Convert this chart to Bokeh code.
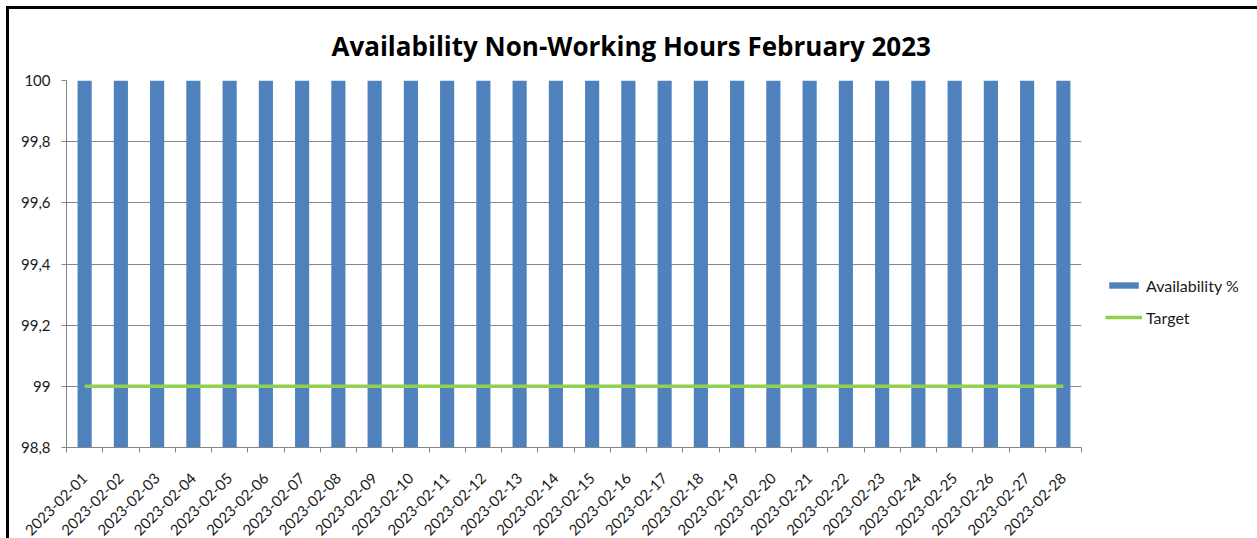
import math
from bokeh.plotting import figure
from bokeh.models import (Range1d, FixedTicker, CustomJSTickFormatter, Legend,
                          LegendItem, ColumnDataSource)
from bokeh.embed import file_html
from bokeh.resources import INLINE

title_text = "Availability Non-Working Hours February 2023"

dates = ["2023-02-01", "2023-02-02", "2023-02-03", "2023-02-04", "2023-02-05",
         "2023-02-06", "2023-02-07", "2023-02-08", "2023-02-09", "2023-02-10",
         "2023-02-11", "2023-02-12", "2023-02-13", "2023-02-14", "2023-02-15",
         "2023-02-16", "2023-02-17", "2023-02-18", "2023-02-19", "2023-02-20",
         "2023-02-21", "2023-02-22", "2023-02-23", "2023-02-24", "2023-02-25",
         "2023-02-26", "2023-02-27", "2023-02-28"]
availability = [100, 100, 100, 100, 100, 100, 100, 100, 100, 100,
                100, 100, 100, 100, 100, 100, 100, 100, 100, 100,
                100, 100, 100, 100, 100, 100, 100, 100]
target = [99, 99, 99, 99, 99, 99, 99, 99, 99, 99,
          99, 99, 99, 99, 99, 99, 99, 99, 99, 99,
          99, 99, 99, 99, 99, 99, 99, 99]
y_ticks = [98.8, 99.0, 99.2, 99.4, 99.6, 99.8, 100.0]
y_tick_labels = ["98,8", "99", "99,2", "99,4", "99,6", "99,8", "100"]

BAR = "#4F81BD"
GREEN = "#92D050"
GRID = "#868686"
TXT = "#1a1a1a"
FONT = "Lato"

x_pos = [i + 0.5 for i in range(len(dates))]
bounds = list(range(len(dates) + 1))

src = ColumnDataSource(dict(x=x_pos, avail=availability, target=target, date=dates))

p = figure(frame_width=1015, frame_height=367, output_backend="svg",
           toolbar_location=None,
           x_range=Range1d(0, len(dates)), y_range=Range1d(y_ticks[0], y_ticks[-1]),
           min_border_left=57, min_border_right=177, min_border_top=71,
           min_border_bottom=92)
p.styles = {"border-top": "3px solid black", "border-left": "3px solid black",
            "border-right": "3px solid black", "margin-left": "6px",
            "margin-top": "6px"}
p.outline_line_color = None
p.background_fill_color = "white"
p.border_fill_color = "white"

p.title.text = title_text
p.title.align = "left"
p.title.offset = 265
p.title.vertical_align = "middle"
p.title.standoff = 32
p.title.text_font = "Open Sans"
p.title.text_font_style = "bold"
p.title.text_font_size = "26px"
p.title.text_color = "black"

bars = p.vbar(x="x", top="avail", bottom=y_ticks[0], width=0.39, source=src,
              fill_color=BAR, line_color=None)
tline = p.line(x="x", y="target", source=src, line_color=GREEN, line_width=3.5)

# x axis
xa = p.xaxis[0]
xa.ticker = FixedTicker(ticks=x_pos, minor_ticks=bounds)
xa.formatter = CustomJSTickFormatter(args=dict(date_labels=dates),
                                     code="return date_labels[Math.floor(tick)]")
xa.major_tick_out = 0
xa.major_tick_in = 0
xa.minor_tick_out = 5
xa.minor_tick_in = 0
xa.minor_tick_line_color = GRID
xa.axis_line_color = GRID
xa.major_label_orientation = math.pi / 4
xa.major_label_standoff = 23
xa.major_label_text_font = FONT
xa.major_label_text_font_size = "15px"
xa.major_label_text_color = TXT

# y axis
ya = p.yaxis[0]
ya.ticker = FixedTicker(ticks=y_ticks)
ya.formatter = CustomJSTickFormatter(
    args=dict(yvals=y_ticks, ylabs=y_tick_labels),
    code="""let best = 0;
for (let i = 0; i < yvals.length; i++) {
  if (Math.abs(yvals[i] - tick) < Math.abs(yvals[best] - tick)) best = i;
}
return ylabs[best];""")
ya.major_tick_out = 5
ya.major_tick_in = 0
ya.minor_tick_out = 0
ya.minor_tick_in = 0
ya.major_tick_line_color = GRID
ya.axis_line_color = GRID
ya.major_label_standoff = 11
ya.major_label_text_font = FONT
ya.major_label_text_font_size = "15px"
ya.major_label_text_color = TXT

p.xgrid.visible = False
p.ygrid.ticker = FixedTicker(ticks=y_ticks)
p.ygrid.grid_line_color = GRID
p.ygrid.grid_line_width = 1

legend = Legend(items=[LegendItem(label="Availability %", renderers=[bars]),
                       LegendItem(label="Target", renderers=[tline])],
                location=(24, 120), orientation="vertical",
                glyph_width=37, glyph_height=8, label_height=20, spacing=12,
                label_standoff=4, padding=0, margin=0,
                border_line_color=None, background_fill_alpha=0,
                label_text_font=FONT, label_text_font_size="16px",
                label_text_color=TXT)
p.add_layout(legend, "right")

open("out.html", "w").write(file_html(p, INLINE))
